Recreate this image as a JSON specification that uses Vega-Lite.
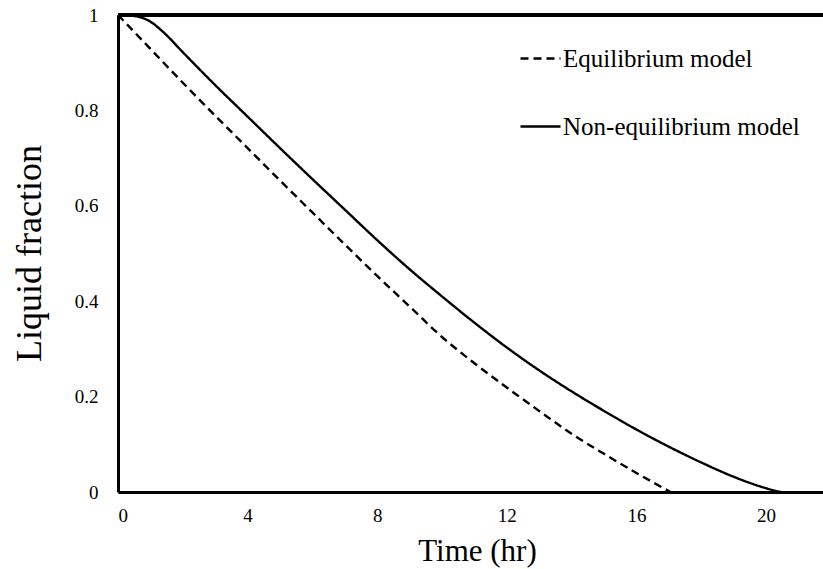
{
  "$schema": "https://vega.github.io/schema/vega-lite/v6.json",
  "autosize": {"type": "none"},
  "padding": {"left": 118, "top": 15, "right": 0, "bottom": 77},
  "width": 705,
  "height": 477,
  "background": "white",
  "config": {
    "view": {"stroke": null},
    "font": "Liberation Serif",
    "axis": {"grid": false, "ticks": false, "domainColor": "black", "domainWidth": 3, "labelColor": "black", "titleColor": "black", "labelFont": "Liberation Serif", "titleFont": "Liberation Serif", "titleFontWeight": "normal"}
  },
  "data": {
    "values": [
      {"t": 0, "f": 1.0, "model": "Equilibrium model"},
      {"t": 1, "f": 0.929, "model": "Equilibrium model"},
      {"t": 2, "f": 0.858, "model": "Equilibrium model"},
      {"t": 3, "f": 0.789, "model": "Equilibrium model"},
      {"t": 4, "f": 0.721, "model": "Equilibrium model"},
      {"t": 5, "f": 0.653, "model": "Equilibrium model"},
      {"t": 6, "f": 0.586, "model": "Equilibrium model"},
      {"t": 7, "f": 0.519, "model": "Equilibrium model"},
      {"t": 8, "f": 0.453, "model": "Equilibrium model"},
      {"t": 9, "f": 0.389, "model": "Equilibrium model"},
      {"t": 10, "f": 0.325, "model": "Equilibrium model"},
      {"t": 11, "f": 0.270, "model": "Equilibrium model"},
      {"t": 12, "f": 0.219, "model": "Equilibrium model"},
      {"t": 13, "f": 0.170, "model": "Equilibrium model"},
      {"t": 14, "f": 0.122, "model": "Equilibrium model"},
      {"t": 15, "f": 0.080, "model": "Equilibrium model"},
      {"t": 16, "f": 0.040, "model": "Equilibrium model"},
      {"t": 17.05, "f": 0.0, "model": "Equilibrium model"},
      {"t": 0, "f": 1.0, "model": "Non-equilibrium model"},
      {"t": 0.5, "f": 0.998, "model": "Non-equilibrium model"},
      {"t": 1, "f": 0.986, "model": "Non-equilibrium model"},
      {"t": 1.4, "f": 0.964, "model": "Non-equilibrium model"},
      {"t": 2, "f": 0.922, "model": "Non-equilibrium model"},
      {"t": 3, "f": 0.853, "model": "Non-equilibrium model"},
      {"t": 4, "f": 0.787, "model": "Non-equilibrium model"},
      {"t": 5, "f": 0.721, "model": "Non-equilibrium model"},
      {"t": 6, "f": 0.656, "model": "Non-equilibrium model"},
      {"t": 7, "f": 0.592, "model": "Non-equilibrium model"},
      {"t": 8, "f": 0.528, "model": "Non-equilibrium model"},
      {"t": 9, "f": 0.467, "model": "Non-equilibrium model"},
      {"t": 10, "f": 0.410, "model": "Non-equilibrium model"},
      {"t": 11, "f": 0.355, "model": "Non-equilibrium model"},
      {"t": 12, "f": 0.303, "model": "Non-equilibrium model"},
      {"t": 13, "f": 0.255, "model": "Non-equilibrium model"},
      {"t": 14, "f": 0.211, "model": "Non-equilibrium model"},
      {"t": 15, "f": 0.170, "model": "Non-equilibrium model"},
      {"t": 16, "f": 0.131, "model": "Non-equilibrium model"},
      {"t": 17, "f": 0.095, "model": "Non-equilibrium model"},
      {"t": 18, "f": 0.062, "model": "Non-equilibrium model"},
      {"t": 19, "f": 0.032, "model": "Non-equilibrium model"},
      {"t": 20, "f": 0.008, "model": "Non-equilibrium model"},
      {"t": 20.45, "f": 0.0, "model": "Non-equilibrium model"}
    ]
  },
  "layer": [
    {
      "mark": {"type": "line", "color": "black", "strokeWidth": 2.4, "interpolate": "monotone"},
      "encoding": {
        "x": {
          "field": "t", "type": "quantitative",
          "scale": {"domain": [0, 21.76], "nice": false, "zero": false},
          "axis": {"values": [0, 4, 8, 12, 16, 20], "title": "Time (hr)", "labelFontSize": 19, "labelPadding": 14, "titleFontSize": 31, "titleX": 359, "titleY": 68, "titleAlign": "center", "titleBaseline": "alphabetic"}
        },
        "y": {
          "field": "f", "type": "quantitative",
          "scale": {"domain": [0, 1], "nice": false},
          "axis": {"values": [0, 0.2, 0.4, 0.6, 0.8, 1], "format": "~g", "title": "Liquid fraction", "labelFontSize": 19, "labelPadding": 20, "titleFontSize": 36, "titleX": -89, "titleY": 238, "titleAngle": -90, "titleAlign": "center", "titleBaseline": "middle"}
        },
        "strokeDash": {
          "field": "model", "type": "nominal",
          "scale": {"domain": ["Equilibrium model", "Non-equilibrium model"], "range": [[8, 5], [1, 0]]},
          "legend": {"title": null, "orient": "none", "legendX": 401, "legendY": 22, "padding": 0, "symbolType": "stroke", "symbolSize": 1600, "symbolStrokeColor": "black", "symbolStrokeWidth": 2.6, "labelFont": "Liberation Serif", "labelFontSize": 25, "labelColor": "black", "labelOffset": 1, "labelLimit": 0, "rowPadding": 33}
        }
      }
    },
    {
      "mark": {"type": "rule", "color": "black", "strokeWidth": 3},
      "encoding": {"y": {"datum": 1}}
    }
  ]
}
